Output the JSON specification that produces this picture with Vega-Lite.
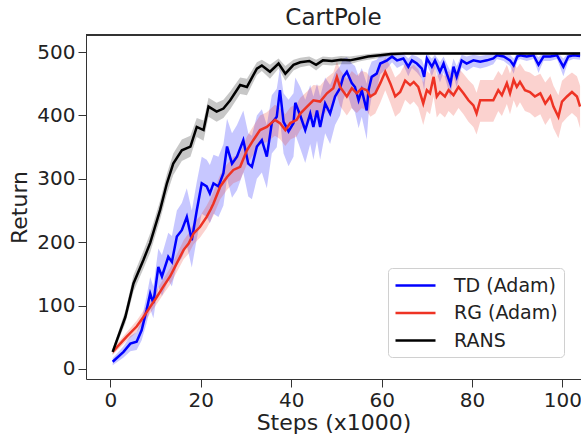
{
  "$schema": "https://vega.github.io/schema/vega-lite/v6.json",
  "autosize": {"type": "none"},
  "padding": {"left": 86, "top": 35, "right": 0, "bottom": 59},
  "width": 495,
  "height": 344,
  "title": {"text": "CartPole", "font": "DejaVu Sans", "fontSize": 23, "fontWeight": "normal", "color": "#222", "offset": 5},
  "config": {
    "view": {"stroke": null},
    "font": "DejaVu Sans",
    "axis": {
      "labelFont": "DejaVu Sans", "labelFontSize": 20, "labelColor": "#222",
      "titleFont": "DejaVu Sans", "titleFontSize": 22, "titleFontWeight": "normal", "titleColor": "#222",
      "grid": false, "domainColor": "#333", "domainWidth": 1, "tickColor": "#333", "tickSize": 8, "labelPadding": 3
    },
    "legend": {
      "orient": "none", "legendX": 302, "legendY": 233,
      "labelFont": "DejaVu Sans", "labelFontSize": 19, "labelColor": "#222",
      "symbolType": "M-2,0H2", "symbolSize": 400, "symbolStrokeWidth": 2.5, "symbolOpacity": 1,
      "symbolOffset": 10,
      "strokeColor": "#d0d0d0", "fillColor": "white", "cornerRadius": 4, "padding": 6,
      "labelOffset": 27, "rowPadding": 5.5, "title": null
    }
  },
  "data": {"values": [
    {"m":"TD (Adam)","s":0.5,"r":11.5,"lo":6,"hi":17},
    {"m":"TD (Adam)","s":2.9,"r":27,"lo":18,"hi":36},
    {"m":"TD (Adam)","s":4.4,"r":40,"lo":28,"hi":52},
    {"m":"TD (Adam)","s":5.8,"r":43,"lo":30,"hi":58},
    {"m":"TD (Adam)","s":6.9,"r":61,"lo":45,"hi":78},
    {"m":"TD (Adam)","s":8,"r":93,"lo":72,"hi":115},
    {"m":"TD (Adam)","s":8.8,"r":119,"lo":95,"hi":145},
    {"m":"TD (Adam)","s":9.5,"r":104,"lo":80,"hi":130},
    {"m":"TD (Adam)","s":10.6,"r":161,"lo":130,"hi":190},
    {"m":"TD (Adam)","s":11.4,"r":146,"lo":115,"hi":180},
    {"m":"TD (Adam)","s":12.8,"r":177,"lo":140,"hi":215},
    {"m":"TD (Adam)","s":13.6,"r":169,"lo":130,"hi":210},
    {"m":"TD (Adam)","s":14.7,"r":209,"lo":165,"hi":250},
    {"m":"TD (Adam)","s":15.8,"r":219,"lo":175,"hi":262},
    {"m":"TD (Adam)","s":16.9,"r":240,"lo":195,"hi":285},
    {"m":"TD (Adam)","s":18,"r":203,"lo":160,"hi":250},
    {"m":"TD (Adam)","s":19.1,"r":250,"lo":205,"hi":295},
    {"m":"TD (Adam)","s":20.2,"r":293,"lo":245,"hi":335},
    {"m":"TD (Adam)","s":21.3,"r":288,"lo":240,"hi":330},
    {"m":"TD (Adam)","s":22,"r":277,"lo":230,"hi":322},
    {"m":"TD (Adam)","s":22.8,"r":293,"lo":245,"hi":338},
    {"m":"TD (Adam)","s":23.9,"r":288,"lo":240,"hi":335},
    {"m":"TD (Adam)","s":25,"r":309,"lo":258,"hi":355},
    {"m":"TD (Adam)","s":25.8,"r":351,"lo":300,"hi":395},
    {"m":"TD (Adam)","s":26.9,"r":324,"lo":270,"hi":372},
    {"m":"TD (Adam)","s":28,"r":335,"lo":282,"hi":385},
    {"m":"TD (Adam)","s":29.4,"r":361,"lo":310,"hi":408},
    {"m":"TD (Adam)","s":30.5,"r":324,"lo":272,"hi":372},
    {"m":"TD (Adam)","s":31.3,"r":319,"lo":268,"hi":368},
    {"m":"TD (Adam)","s":32.4,"r":351,"lo":300,"hi":400},
    {"m":"TD (Adam)","s":33.5,"r":361,"lo":310,"hi":410},
    {"m":"TD (Adam)","s":34.6,"r":335,"lo":285,"hi":385},
    {"m":"TD (Adam)","s":35.7,"r":388,"lo":340,"hi":432},
    {"m":"TD (Adam)","s":36.8,"r":398,"lo":350,"hi":442},
    {"m":"TD (Adam)","s":37.5,"r":440,"lo":395,"hi":475},
    {"m":"TD (Adam)","s":38.3,"r":390,"lo":340,"hi":435},
    {"m":"TD (Adam)","s":39.4,"r":375,"lo":320,"hi":425},
    {"m":"TD (Adam)","s":40.5,"r":388,"lo":335,"hi":435},
    {"m":"TD (Adam)","s":40.9,"r":420,"lo":370,"hi":460},
    {"m":"TD (Adam)","s":42,"r":400,"lo":348,"hi":445},
    {"m":"TD (Adam)","s":43.1,"r":377,"lo":325,"hi":425},
    {"m":"TD (Adam)","s":44.2,"r":403,"lo":355,"hi":448},
    {"m":"TD (Adam)","s":44.9,"r":382,"lo":330,"hi":430},
    {"m":"TD (Adam)","s":45.7,"r":408,"lo":360,"hi":450},
    {"m":"TD (Adam)","s":46.4,"r":382,"lo":330,"hi":430},
    {"m":"TD (Adam)","s":47.5,"r":419,"lo":372,"hi":460},
    {"m":"TD (Adam)","s":48.6,"r":403,"lo":355,"hi":448},
    {"m":"TD (Adam)","s":49.7,"r":430,"lo":385,"hi":468},
    {"m":"TD (Adam)","s":50.8,"r":443,"lo":400,"hi":478},
    {"m":"TD (Adam)","s":51.5,"r":461,"lo":425,"hi":490},
    {"m":"TD (Adam)","s":52.3,"r":469,"lo":438,"hi":492},
    {"m":"TD (Adam)","s":53.4,"r":451,"lo":412,"hi":482},
    {"m":"TD (Adam)","s":54.1,"r":445,"lo":405,"hi":478},
    {"m":"TD (Adam)","s":54.9,"r":424,"lo":380,"hi":462},
    {"m":"TD (Adam)","s":55.6,"r":440,"lo":398,"hi":475},
    {"m":"TD (Adam)","s":56.7,"r":408,"lo":362,"hi":450},
    {"m":"TD (Adam)","s":57.1,"r":440,"lo":400,"hi":472},
    {"m":"TD (Adam)","s":57.8,"r":461,"lo":430,"hi":485},
    {"m":"TD (Adam)","s":58.9,"r":466,"lo":440,"hi":488},
    {"m":"TD (Adam)","s":59.7,"r":482,"lo":465,"hi":495},
    {"m":"TD (Adam)","s":61.2,"r":487,"lo":474,"hi":497},
    {"m":"TD (Adam)","s":62.3,"r":493,"lo":484,"hi":499},
    {"m":"TD (Adam)","s":63.4,"r":487,"lo":475,"hi":496},
    {"m":"TD (Adam)","s":64.8,"r":490,"lo":480,"hi":498},
    {"m":"TD (Adam)","s":65.9,"r":477,"lo":462,"hi":490},
    {"m":"TD (Adam)","s":66.7,"r":487,"lo":475,"hi":496},
    {"m":"TD (Adam)","s":67.8,"r":482,"lo":468,"hi":493},
    {"m":"TD (Adam)","s":68.9,"r":474,"lo":458,"hi":488},
    {"m":"TD (Adam)","s":69.4,"r":461,"lo":440,"hi":478},
    {"m":"TD (Adam)","s":70,"r":490,"lo":480,"hi":498},
    {"m":"TD (Adam)","s":71.1,"r":477,"lo":462,"hi":490},
    {"m":"TD (Adam)","s":71.8,"r":487,"lo":475,"hi":496},
    {"m":"TD (Adam)","s":72.9,"r":469,"lo":452,"hi":484},
    {"m":"TD (Adam)","s":73.7,"r":482,"lo":468,"hi":493},
    {"m":"TD (Adam)","s":74.4,"r":466,"lo":450,"hi":482},
    {"m":"TD (Adam)","s":75.2,"r":450,"lo":428,"hi":470},
    {"m":"TD (Adam)","s":75.9,"r":477,"lo":462,"hi":490},
    {"m":"TD (Adam)","s":76.6,"r":461,"lo":444,"hi":478},
    {"m":"TD (Adam)","s":77.7,"r":487,"lo":476,"hi":496},
    {"m":"TD (Adam)","s":78.8,"r":482,"lo":470,"hi":493},
    {"m":"TD (Adam)","s":80.3,"r":487,"lo":477,"hi":496},
    {"m":"TD (Adam)","s":81.8,"r":485,"lo":474,"hi":494},
    {"m":"TD (Adam)","s":83.3,"r":487,"lo":477,"hi":496},
    {"m":"TD (Adam)","s":84.7,"r":490,"lo":481,"hi":498},
    {"m":"TD (Adam)","s":85.5,"r":495,"lo":489,"hi":500},
    {"m":"TD (Adam)","s":87,"r":493,"lo":486,"hi":499},
    {"m":"TD (Adam)","s":88.4,"r":487,"lo":478,"hi":496},
    {"m":"TD (Adam)","s":89.2,"r":479,"lo":466,"hi":490},
    {"m":"TD (Adam)","s":90,"r":493,"lo":486,"hi":499},
    {"m":"TD (Adam)","s":90.6,"r":495,"lo":489,"hi":500},
    {"m":"TD (Adam)","s":92.1,"r":493,"lo":486,"hi":499},
    {"m":"TD (Adam)","s":93.6,"r":495,"lo":489,"hi":500},
    {"m":"TD (Adam)","s":94.7,"r":480,"lo":467,"hi":492},
    {"m":"TD (Adam)","s":95.8,"r":493,"lo":486,"hi":499},
    {"m":"TD (Adam)","s":97.3,"r":493,"lo":486,"hi":499},
    {"m":"TD (Adam)","s":98.8,"r":495,"lo":489,"hi":500},
    {"m":"TD (Adam)","s":100.2,"r":477,"lo":462,"hi":490},
    {"m":"TD (Adam)","s":101.3,"r":493,"lo":486,"hi":499},
    {"m":"TD (Adam)","s":102.4,"r":495,"lo":489,"hi":500},
    {"m":"TD (Adam)","s":103.9,"r":494,"lo":488,"hi":500},

    {"m":"RG (Adam)","s":0.5,"r":27,"lo":22,"hi":32},
    {"m":"RG (Adam)","s":3.6,"r":51,"lo":44,"hi":58},
    {"m":"RG (Adam)","s":5.8,"r":67,"lo":58,"hi":76},
    {"m":"RG (Adam)","s":7.3,"r":82,"lo":72,"hi":92},
    {"m":"RG (Adam)","s":8.8,"r":98,"lo":88,"hi":108},
    {"m":"RG (Adam)","s":10.3,"r":114,"lo":103,"hi":125},
    {"m":"RG (Adam)","s":11.7,"r":130,"lo":118,"hi":142},
    {"m":"RG (Adam)","s":13.2,"r":146,"lo":133,"hi":159},
    {"m":"RG (Adam)","s":14.7,"r":167,"lo":153,"hi":181},
    {"m":"RG (Adam)","s":16.2,"r":188,"lo":173,"hi":203},
    {"m":"RG (Adam)","s":17.3,"r":198,"lo":182,"hi":214},
    {"m":"RG (Adam)","s":18.4,"r":214,"lo":197,"hi":230},
    {"m":"RG (Adam)","s":19.8,"r":224,"lo":207,"hi":241},
    {"m":"RG (Adam)","s":21.3,"r":240,"lo":222,"hi":258},
    {"m":"RG (Adam)","s":22.2,"r":252,"lo":234,"hi":270},
    {"m":"RG (Adam)","s":22.8,"r":261,"lo":242,"hi":280},
    {"m":"RG (Adam)","s":24.3,"r":288,"lo":268,"hi":307},
    {"m":"RG (Adam)","s":25.8,"r":303,"lo":283,"hi":323},
    {"m":"RG (Adam)","s":27.2,"r":314,"lo":293,"hi":335},
    {"m":"RG (Adam)","s":28.7,"r":319,"lo":298,"hi":340},
    {"m":"RG (Adam)","s":30.2,"r":345,"lo":323,"hi":367},
    {"m":"RG (Adam)","s":31.6,"r":361,"lo":338,"hi":383},
    {"m":"RG (Adam)","s":33.1,"r":377,"lo":354,"hi":400},
    {"m":"RG (Adam)","s":34.6,"r":382,"lo":358,"hi":405},
    {"m":"RG (Adam)","s":36.4,"r":393,"lo":368,"hi":417},
    {"m":"RG (Adam)","s":37.5,"r":388,"lo":363,"hi":412},
    {"m":"RG (Adam)","s":38.7,"r":377,"lo":352,"hi":402},
    {"m":"RG (Adam)","s":39.8,"r":388,"lo":362,"hi":413},
    {"m":"RG (Adam)","s":41.2,"r":393,"lo":367,"hi":418},
    {"m":"RG (Adam)","s":42,"r":403,"lo":377,"hi":428},
    {"m":"RG (Adam)","s":43.5,"r":414,"lo":388,"hi":438},
    {"m":"RG (Adam)","s":44.9,"r":424,"lo":398,"hi":448},
    {"m":"RG (Adam)","s":46.4,"r":422,"lo":395,"hi":447},
    {"m":"RG (Adam)","s":47.9,"r":435,"lo":408,"hi":460},
    {"m":"RG (Adam)","s":49.3,"r":443,"lo":415,"hi":468},
    {"m":"RG (Adam)","s":50.1,"r":461,"lo":432,"hi":485},
    {"m":"RG (Adam)","s":50.8,"r":445,"lo":415,"hi":472},
    {"m":"RG (Adam)","s":52.3,"r":430,"lo":400,"hi":458},
    {"m":"RG (Adam)","s":53.4,"r":443,"lo":412,"hi":470},
    {"m":"RG (Adam)","s":54.5,"r":435,"lo":404,"hi":463},
    {"m":"RG (Adam)","s":55.6,"r":443,"lo":412,"hi":470},
    {"m":"RG (Adam)","s":56.7,"r":440,"lo":408,"hi":468},
    {"m":"RG (Adam)","s":57.5,"r":430,"lo":398,"hi":460},
    {"m":"RG (Adam)","s":58.6,"r":435,"lo":403,"hi":465},
    {"m":"RG (Adam)","s":59.7,"r":451,"lo":420,"hi":478},
    {"m":"RG (Adam)","s":60.8,"r":469,"lo":440,"hi":492},
    {"m":"RG (Adam)","s":61.9,"r":451,"lo":420,"hi":478},
    {"m":"RG (Adam)","s":63,"r":430,"lo":398,"hi":460},
    {"m":"RG (Adam)","s":64.1,"r":437,"lo":405,"hi":467},
    {"m":"RG (Adam)","s":65.2,"r":455,"lo":425,"hi":482},
    {"m":"RG (Adam)","s":66.3,"r":448,"lo":417,"hi":476},
    {"m":"RG (Adam)","s":67.1,"r":453,"lo":422,"hi":480},
    {"m":"RG (Adam)","s":68.1,"r":445,"lo":413,"hi":473},
    {"m":"RG (Adam)","s":69.2,"r":419,"lo":385,"hi":452},
    {"m":"RG (Adam)","s":70,"r":440,"lo":407,"hi":470},
    {"m":"RG (Adam)","s":70.7,"r":435,"lo":402,"hi":466},
    {"m":"RG (Adam)","s":71.5,"r":461,"lo":430,"hi":488},
    {"m":"RG (Adam)","s":72.2,"r":430,"lo":397,"hi":462},
    {"m":"RG (Adam)","s":72.9,"r":437,"lo":404,"hi":468},
    {"m":"RG (Adam)","s":74,"r":430,"lo":397,"hi":462},
    {"m":"RG (Adam)","s":74.8,"r":440,"lo":407,"hi":470},
    {"m":"RG (Adam)","s":75.9,"r":432,"lo":399,"hi":463},
    {"m":"RG (Adam)","s":77,"r":445,"lo":412,"hi":475},
    {"m":"RG (Adam)","s":78.1,"r":435,"lo":402,"hi":466},
    {"m":"RG (Adam)","s":79.2,"r":424,"lo":390,"hi":456},
    {"m":"RG (Adam)","s":80.3,"r":416,"lo":382,"hi":448},
    {"m":"RG (Adam)","s":81,"r":403,"lo":370,"hi":436},
    {"m":"RG (Adam)","s":81.8,"r":424,"lo":390,"hi":456},
    {"m":"RG (Adam)","s":83.3,"r":424,"lo":390,"hi":456},
    {"m":"RG (Adam)","s":84.7,"r":424,"lo":390,"hi":456},
    {"m":"RG (Adam)","s":85.8,"r":440,"lo":407,"hi":470},
    {"m":"RG (Adam)","s":86.6,"r":432,"lo":399,"hi":463},
    {"m":"RG (Adam)","s":87.7,"r":451,"lo":418,"hi":480},
    {"m":"RG (Adam)","s":88.4,"r":435,"lo":402,"hi":466},
    {"m":"RG (Adam)","s":89.2,"r":456,"lo":424,"hi":484},
    {"m":"RG (Adam)","s":89.9,"r":445,"lo":412,"hi":475},
    {"m":"RG (Adam)","s":90.6,"r":453,"lo":421,"hi":482},
    {"m":"RG (Adam)","s":91.7,"r":440,"lo":407,"hi":470},
    {"m":"RG (Adam)","s":92.8,"r":437,"lo":404,"hi":468},
    {"m":"RG (Adam)","s":93.9,"r":430,"lo":397,"hi":462},
    {"m":"RG (Adam)","s":95.1,"r":435,"lo":402,"hi":466},
    {"m":"RG (Adam)","s":96.2,"r":419,"lo":385,"hi":452},
    {"m":"RG (Adam)","s":97.3,"r":430,"lo":397,"hi":462},
    {"m":"RG (Adam)","s":98,"r":414,"lo":380,"hi":447},
    {"m":"RG (Adam)","s":99.1,"r":398,"lo":364,"hi":432},
    {"m":"RG (Adam)","s":99.9,"r":422,"lo":388,"hi":455},
    {"m":"RG (Adam)","s":101,"r":430,"lo":397,"hi":462},
    {"m":"RG (Adam)","s":102.1,"r":437,"lo":404,"hi":468},
    {"m":"RG (Adam)","s":103.2,"r":430,"lo":397,"hi":462},
    {"m":"RG (Adam)","s":103.9,"r":414,"lo":380,"hi":447},

    {"m":"RANS","s":0.5,"r":27,"lo":22,"hi":32},
    {"m":"RANS","s":3.3,"r":82,"lo":72,"hi":92},
    {"m":"RANS","s":5.1,"r":135,"lo":122,"hi":148},
    {"m":"RANS","s":7.3,"r":172,"lo":158,"hi":186},
    {"m":"RANS","s":8.8,"r":199,"lo":184,"hi":214},
    {"m":"RANS","s":11,"r":251,"lo":236,"hi":266},
    {"m":"RANS","s":12.5,"r":293,"lo":276,"hi":308},
    {"m":"RANS","s":13.9,"r":324,"lo":306,"hi":340},
    {"m":"RANS","s":15.8,"r":345,"lo":328,"hi":362},
    {"m":"RANS","s":17.7,"r":351,"lo":335,"hi":368},
    {"m":"RANS","s":19.1,"r":382,"lo":366,"hi":396},
    {"m":"RANS","s":20.6,"r":377,"lo":360,"hi":392},
    {"m":"RANS","s":21.7,"r":414,"lo":398,"hi":428},
    {"m":"RANS","s":23.5,"r":406,"lo":390,"hi":420},
    {"m":"RANS","s":25,"r":411,"lo":396,"hi":425},
    {"m":"RANS","s":26.5,"r":424,"lo":410,"hi":438},
    {"m":"RANS","s":28.7,"r":448,"lo":434,"hi":460},
    {"m":"RANS","s":30.2,"r":445,"lo":432,"hi":458},
    {"m":"RANS","s":32.4,"r":474,"lo":464,"hi":484},
    {"m":"RANS","s":33.5,"r":479,"lo":470,"hi":488},
    {"m":"RANS","s":35.3,"r":469,"lo":458,"hi":480},
    {"m":"RANS","s":37.2,"r":482,"lo":474,"hi":490},
    {"m":"RANS","s":38.7,"r":466,"lo":455,"hi":478},
    {"m":"RANS","s":40.5,"r":480,"lo":471,"hi":488},
    {"m":"RANS","s":42,"r":484,"lo":476,"hi":491},
    {"m":"RANS","s":44,"r":486,"lo":479,"hi":493},
    {"m":"RANS","s":45.5,"r":480,"lo":471,"hi":488},
    {"m":"RANS","s":47,"r":487,"lo":480,"hi":493},
    {"m":"RANS","s":49,"r":486,"lo":479,"hi":492},
    {"m":"RANS","s":51,"r":488,"lo":481,"hi":494},
    {"m":"RANS","s":53,"r":487,"lo":481,"hi":493},
    {"m":"RANS","s":55,"r":490,"lo":485,"hi":495},
    {"m":"RANS","s":57,"r":493,"lo":488,"hi":497},
    {"m":"RANS","s":59.7,"r":495,"lo":491,"hi":499},
    {"m":"RANS","s":62,"r":497,"lo":494,"hi":500},
    {"m":"RANS","s":65,"r":498,"lo":496,"hi":500},
    {"m":"RANS","s":70,"r":498,"lo":496,"hi":500},
    {"m":"RANS","s":80,"r":498,"lo":496,"hi":500},
    {"m":"RANS","s":90,"r":498,"lo":496,"hi":500},
    {"m":"RANS","s":100,"r":498,"lo":496,"hi":500},
    {"m":"RANS","s":103.9,"r":498,"lo":496,"hi":500}
  ]},
  "layer": [
    {
      "mark": {"type": "area", "opacity": 0.22, "clip": true},
      "encoding": {
        "x": {"field": "s", "type": "quantitative", "scale": {"domain": [-5.4, 104.1], "nice": false, "zero": false},
              "axis": {"values": [0, 20, 40, 60, 80, 100], "title": "Steps (x1000)", "titlePadding": 2}},
        "y": {"field": "lo", "type": "quantitative", "scale": {"domain": [-15.8, 527], "nice": false, "zero": false},
              "axis": {"values": [0, 100, 200, 300, 400, 500], "title": "Return", "titlePadding": 5}},
        "y2": {"field": "hi"},
        "color": {"field": "m", "type": "nominal",
                  "scale": {"domain": ["TD (Adam)", "RG (Adam)", "RANS"], "range": ["#0000ff", "#ee3324", "#000000"]}},
        "detail": {"field": "m"}
      }
    },
    {
      "mark": {"type": "line", "strokeWidth": 2.5, "clip": true},
      "encoding": {
        "x": {"field": "s", "type": "quantitative"},
        "y": {"field": "r", "type": "quantitative"},
        "color": {"field": "m", "type": "nominal", "legend": {"symbolType": "M-2,0H2", "symbolStrokeWidth": 2.5, "symbolSize": 400}}
      }
    },
    {
      "mark": {"type": "rule", "color": "#333", "strokeWidth": 1},
      "encoding": {"y": {"datum": 527}}
    }
  ]
}
